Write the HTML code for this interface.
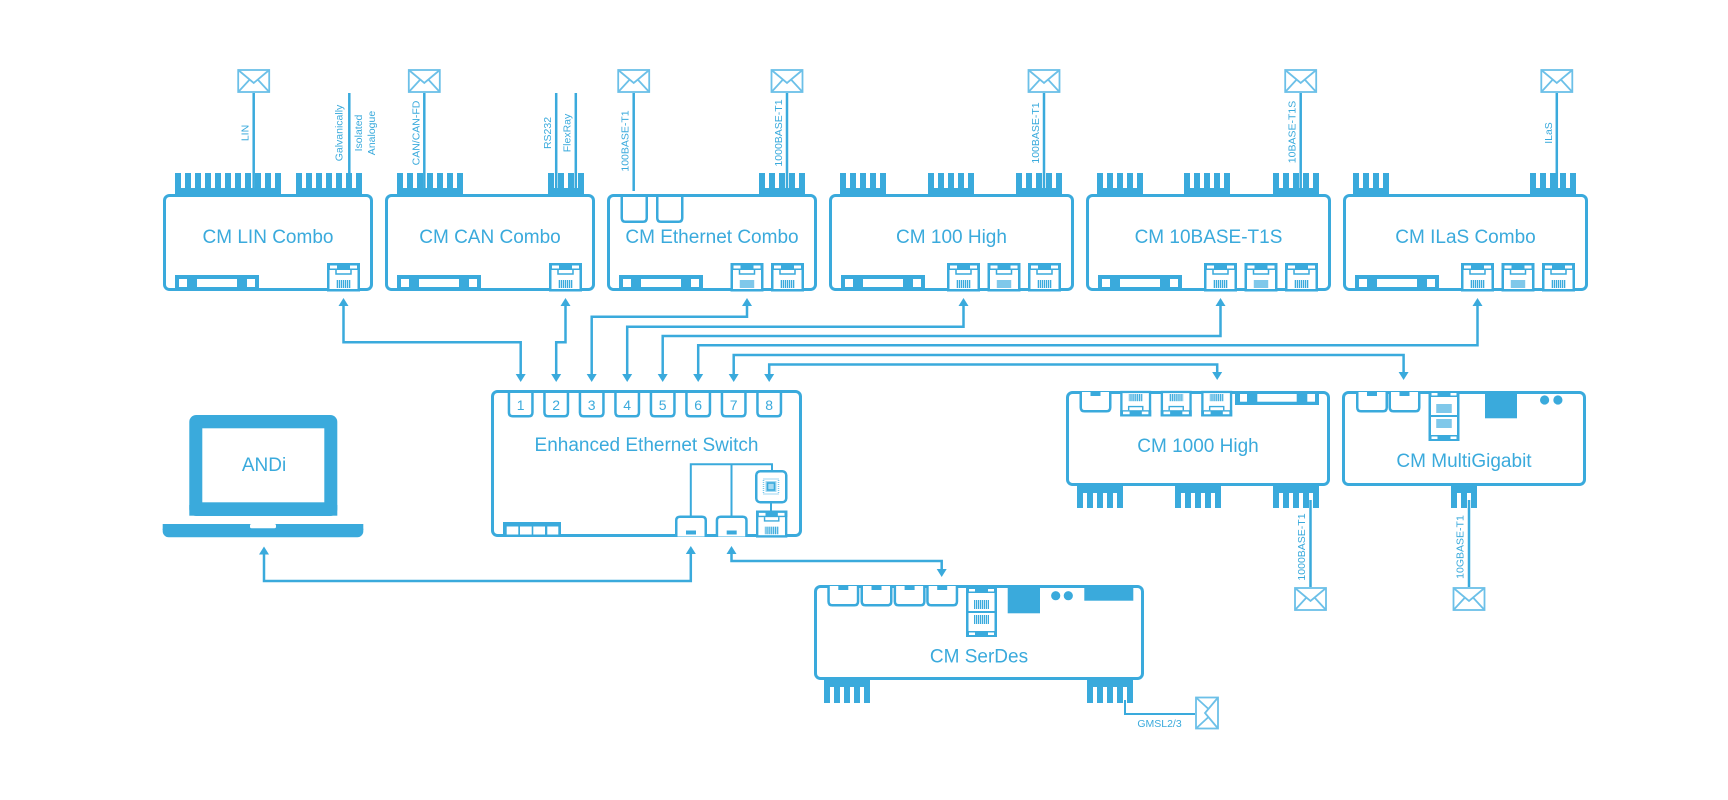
<!DOCTYPE html>
<html><head><meta charset="utf-8"><style>
html,body{margin:0;padding:0;background:#fff;}
svg{display:block;}
text{font-family:"Liberation Sans",Arial,sans-serif;fill:#3aaadc;}
.bx{fill:none;stroke:#3aaadc;stroke-width:3;}
.ln{fill:none;stroke:#3aaadc;stroke-width:2.5;}
.cn{fill:none;stroke:#3aaadc;stroke-width:2.5;}
.f{fill:#3aaadc;}
.w{fill:#fff;}
.lbl{font-size:10.5px;}
.big{font-size:19px;}
</style></head><body>
<svg width="1728" height="800" viewBox="0 0 1728 800" xmlns="http://www.w3.org/2000/svg">
<defs>
<pattern id="st" width="2" height="40" patternUnits="userSpaceOnUse"><rect width="2" height="40" fill="#c4e7f7"/><rect width="1" height="40" fill="#3aaadc"/></pattern>
<pattern id="fin" width="10" height="40" patternUnits="userSpaceOnUse"><rect width="6" height="40" fill="#3aaadc"/></pattern>
<g id="rj">
 <rect x="1.25" y="1.25" width="30.5" height="26" fill="#fff" stroke="#3aaadc" stroke-width="2.5"/>
 <rect x="0" y="0" width="33" height="7" fill="#3aaadc"/>
 <rect x="3" y="2.5" width="7" height="3" fill="#fff"/>
 <rect x="23" y="2.5" width="7" height="3" fill="#fff"/>
 <path d="M9 7 V11 H24 V7" fill="none" stroke="#3aaadc" stroke-width="1.5"/>
 <rect x="9" y="17" width="15" height="8" fill="url(#st)"/>
</g>
<g id="rj2">
 <rect x="1.25" y="1.25" width="28.5" height="47.5" fill="#fff" stroke="#3aaadc" stroke-width="2.5"/>
 <rect x="0" y="0" width="31" height="6" fill="#3aaadc"/>
 <rect x="3" y="2" width="6" height="2.5" fill="#fff"/>
 <rect x="22" y="2" width="6" height="2.5" fill="#fff"/>
 <rect x="0" y="44" width="31" height="6" fill="#3aaadc"/>
 <rect x="3" y="45.5" width="6" height="2.5" fill="#fff"/>
 <rect x="22" y="45.5" width="6" height="2.5" fill="#fff"/>
 <line x1="2" y1="25" x2="29" y2="25" stroke="#3aaadc" stroke-width="2"/>
 <rect x="8" y="13" width="15" height="9" fill="url(#st)"/>
 <rect x="8" y="28" width="15" height="9" fill="url(#st)"/>
</g>
<g id="env" fill="none" stroke="#6cc0e8" stroke-width="1.8">
 <rect x="1" y="1" width="31" height="22" fill="#fff"/>
 <polyline points="1,1 16.5,14 32,1"/>
 <line x1="1" y1="23" x2="12.5" y2="10.5"/>
 <line x1="32" y1="23" x2="20.5" y2="10.5"/>
</g>
<path id="port" d="M1.25 0 V21.5 Q1.25 25.25 5 25.25 H21 Q24.75 25.25 24.75 21.5 V0" fill="none" stroke="#3aaadc" stroke-width="2.5"/>
<g id="sfpd">
 <path d="M1.25 0 V15.5 Q1.25 19.25 5 19.25 H27 Q30.75 19.25 30.75 15.5 V0" fill="#fff" stroke="#3aaadc" stroke-width="2.5"/>
 <rect x="11" y="0" width="10" height="4" fill="#3aaadc"/>
</g>
<g id="sfpu">
 <path d="M1.25 21 V5 Q1.25 1.25 5 1.25 H27 Q30.75 1.25 30.75 5 V21" fill="#fff" stroke="#3aaadc" stroke-width="2.5"/>
 <rect x="11" y="15" width="10" height="4" fill="#3aaadc"/>
</g>
<g id="bar">
 <rect x="0" y="0" width="84" height="16" fill="#3aaadc"/>
 <rect x="4" y="4" width="8" height="8" fill="#fff"/>
 <rect x="22" y="4" width="40" height="8" fill="#fff"/>
 <rect x="72" y="4" width="8" height="8" fill="#fff"/>
</g>
</defs>

<!-- ================= TOP ROW ================= -->
<!-- fins -->
<g transform="translate(175,173)"><rect width="106" height="15" fill="url(#fin)"/><rect y="15" width="106" height="8" class="f"/></g>
<g transform="translate(296,173)"><rect width="66" height="15" fill="url(#fin)"/><rect y="15" width="66" height="8" class="f"/></g>
<g transform="translate(397,173)"><rect width="66" height="15" fill="url(#fin)"/><rect y="15" width="66" height="8" class="f"/></g>
<g transform="translate(548,173)"><rect width="36" height="15" fill="url(#fin)"/><rect y="15" width="36" height="8" class="f"/></g>
<g transform="translate(759,173)"><rect width="46" height="15" fill="url(#fin)"/><rect y="15" width="46" height="8" class="f"/></g>
<g transform="translate(840,173)"><rect width="46" height="15" fill="url(#fin)"/><rect y="15" width="46" height="8" class="f"/></g>
<g transform="translate(928,173)"><rect width="46" height="15" fill="url(#fin)"/><rect y="15" width="46" height="8" class="f"/></g>
<g transform="translate(1016,173)"><rect width="46" height="15" fill="url(#fin)"/><rect y="15" width="46" height="8" class="f"/></g>
<g transform="translate(1097,173)"><rect width="46" height="15" fill="url(#fin)"/><rect y="15" width="46" height="8" class="f"/></g>
<g transform="translate(1184,173)"><rect width="46" height="15" fill="url(#fin)"/><rect y="15" width="46" height="8" class="f"/></g>
<g transform="translate(1273,173)"><rect width="46" height="15" fill="url(#fin)"/><rect y="15" width="46" height="8" class="f"/></g>
<g transform="translate(1353,173)"><rect width="36" height="15" fill="url(#fin)"/><rect y="15" width="36" height="8" class="f"/></g>
<g transform="translate(1530,173)"><rect width="46" height="15" fill="url(#fin)"/><rect y="15" width="46" height="8" class="f"/></g>

<!-- top signal lines -->
<g class="ln">
<line x1="253.7" y1="93" x2="253.7" y2="188"/>
<line x1="349.3" y1="93" x2="349.3" y2="188"/>
<line x1="424.3" y1="93" x2="424.3" y2="188"/>
<line x1="556.2" y1="93" x2="556.2" y2="188"/>
<line x1="575.8" y1="93" x2="575.8" y2="188"/>
<line x1="633.7" y1="93" x2="633.7" y2="191"/>
<line x1="787" y1="93" x2="787" y2="188"/>
<line x1="1044" y1="93" x2="1044" y2="188"/>
<line x1="1300.7" y1="93" x2="1300.7" y2="188"/>
<line x1="1556.8" y1="93" x2="1556.8" y2="188"/>
</g>
<use href="#env" x="237.2" y="69"/>
<use href="#env" x="407.8" y="69"/>
<use href="#env" x="617.2" y="69"/>
<use href="#env" x="770.5" y="69"/>
<use href="#env" x="1027.5" y="69"/>
<use href="#env" x="1284.2" y="69"/>
<use href="#env" x="1540.3" y="69"/>

<!-- rotated labels -->
<g class="lbl" text-anchor="middle">
<text transform="translate(248.7,133) rotate(-90)">LIN</text>
<text transform="translate(342.5,133) rotate(-90)">Galvanically</text>
<text transform="translate(362,133) rotate(-90)">Isolated</text>
<text transform="translate(375,133) rotate(-90)">Analogue</text>
<text transform="translate(419.3,133) rotate(-90)">CAN/CAN-FD</text>
<text transform="translate(551,133) rotate(-90)">RS232</text>
<text transform="translate(570.5,133) rotate(-90)">FlexRay</text>
<text transform="translate(628.7,141) rotate(-90)">100BASE-T1</text>
<text transform="translate(782,133) rotate(-90)">1000BASE-T1</text>
<text transform="translate(1039,133) rotate(-90)">100BASE-T1</text>
<text transform="translate(1295.7,132) rotate(-90)">10BASE-T1S</text>
<text transform="translate(1551.8,133) rotate(-90)">ILaS</text>
<text transform="translate(1305,547) rotate(-90)">1000BASE-T1</text>
<text transform="translate(1463.6,547) rotate(-90)">10GBASE-T1</text>
</g>

<!-- top boxes -->
<rect class="bx" x="164.5" y="195.5" width="207" height="94" rx="5"/>
<rect class="bx" x="386.5" y="195.5" width="207" height="94" rx="5"/>
<rect class="bx" x="608.5" y="195.5" width="207" height="94" rx="5"/>
<rect class="bx" x="830.5" y="195.5" width="242" height="94" rx="5"/>
<rect class="bx" x="1087.5" y="195.5" width="242" height="94" rx="5"/>
<rect class="bx" x="1344.5" y="195.5" width="242" height="94" rx="5"/>

<!-- Eth SFP cages -->
<path class="ln" d="M621.75 196 V218 Q621.75 221.75 625.5 221.75 H643 Q646.75 221.75 646.75 218 V196"/>
<path class="ln" d="M657.25 196 V218 Q657.25 221.75 661 221.75 H678.5 Q682.25 221.75 682.25 218 V196"/>

<!-- bottom bars -->
<use href="#bar" x="175" y="275"/>
<use href="#bar" x="397" y="275"/>
<use href="#bar" x="619" y="275"/>
<use href="#bar" x="841" y="275"/>
<use href="#bar" x="1098" y="275"/>
<use href="#bar" x="1355" y="275"/>

<!-- RJ45 top row -->
<use href="#rj" x="327" y="263"/>
<use href="#rj" x="549" y="263"/>
<use href="#rj" x="730.5" y="263"/>
<use href="#rj" x="771" y="263"/>
<use href="#rj" x="947" y="263"/>
<use href="#rj" x="987.5" y="263"/>
<use href="#rj" x="1028" y="263"/>
<use href="#rj" x="1204" y="263"/>
<use href="#rj" x="1244.5" y="263"/>
<use href="#rj" x="1285" y="263"/>
<use href="#rj" x="1461" y="263"/>
<use href="#rj" x="1501.5" y="263"/>
<use href="#rj" x="1542" y="263"/>

<g class="big" text-anchor="middle">
<text x="268" y="243">CM LIN Combo</text>
<text x="490" y="243">CM CAN Combo</text>
<text x="712" y="243">CM Ethernet Combo</text>
<text x="951.5" y="243">CM 100 High</text>
<text x="1208.5" y="243">CM 10BASE-T1S</text>
<text x="1465.5" y="243">CM ILaS Combo</text>
</g>

<!-- ================= CONNECTORS ================= -->
<g class="cn">
<path d="M343.5 305 V342.3 H520.7 V375"/>
<path d="M565.5 305 V342.3 H556.2 V375"/>
<path d="M591.7 375 V316.7 H747 V305"/>
<path d="M627.2 375 V326.7 H963.5 V305"/>
<path d="M662.7 375 V336 H1220.5 V305"/>
<path d="M698.2 375 V345.3 H1477.5 V305"/>
<path d="M733.7 375 V355 H1403.6 V373"/>
<path d="M769.2 375 V364.5 H1217.2 V373"/>
<path d="M264 553 V581 H690.8 V553"/>
<path d="M731.5 553 V561 H941.7 V570"/>
</g>
<g class="f">
<!-- up arrows -->
<polygon points="338.5,306 348.5,306 343.5,298"/>
<polygon points="560.5,306 570.5,306 565.5,298"/>
<polygon points="742,306 752,306 747,298"/>
<polygon points="958.5,306 968.5,306 963.5,298"/>
<polygon points="1215.5,306 1225.5,306 1220.5,298"/>
<polygon points="1472.5,306 1482.5,306 1477.5,298"/>
<polygon points="259,554.5 269,554.5 264,546.5"/>
<polygon points="685.8,554 695.8,554 690.8,546"/>
<polygon points="726.5,554 736.5,554 731.5,546"/>
<!-- down arrows -->
<polygon points="515.7,374 525.7,374 520.7,382"/>
<polygon points="551.2,374 561.2,374 556.2,382"/>
<polygon points="586.7,374 596.7,374 591.7,382"/>
<polygon points="622.2,374 632.2,374 627.2,382"/>
<polygon points="657.7,374 667.7,374 662.7,382"/>
<polygon points="693.2,374 703.2,374 698.2,382"/>
<polygon points="728.7,374 738.7,374 733.7,382"/>
<polygon points="764.2,374 774.2,374 769.2,382"/>
<polygon points="1398.6,372 1408.6,372 1403.6,380"/>
<polygon points="1212.2,372 1222.2,372 1217.2,380"/>
<polygon points="936.7,569 946.7,569 941.7,577"/>
</g>

<!-- ================= SWITCH ================= -->
<rect class="bx" x="492.5" y="391.5" width="308" height="144" rx="5"/>
<use href="#port" x="507.7" y="391"/>
<use href="#port" x="543.2" y="391"/>
<use href="#port" x="578.7" y="391"/>
<use href="#port" x="614.2" y="391"/>
<use href="#port" x="649.7" y="391"/>
<use href="#port" x="685.2" y="391"/>
<use href="#port" x="720.7" y="391"/>
<use href="#port" x="756.2" y="391"/>
<g style="font-size:14px" text-anchor="middle">
<text x="520.7" y="410">1</text>
<text x="556.2" y="410">2</text>
<text x="591.7" y="410">3</text>
<text x="627.2" y="410">4</text>
<text x="662.7" y="410">5</text>
<text x="698.2" y="410">6</text>
<text x="733.7" y="410">7</text>
<text x="769.2" y="410">8</text>
</g>
<text class="big" x="646.5" y="451" text-anchor="middle">Enhanced Ethernet Switch</text>
<rect class="f" x="503" y="522" width="58" height="14"/>
<rect class="w" x="506.7" y="526.5" width="11.6" height="8"/>
<rect class="w" x="520" y="526.5" width="11.7" height="8"/>
<rect class="w" x="533.3" y="526.5" width="11.7" height="8"/>
<rect class="w" x="547.3" y="526.5" width="11" height="8"/>
<g fill="none" stroke="#3aaadc" stroke-width="2">
<path d="M690.8 516 V464.3 H772 V471"/>
<path d="M731.5 464.3 V516"/>
<path d="M771 503 V511"/>
</g>
<use href="#sfpu" x="675" y="515.5"/>
<use href="#sfpu" x="715.7" y="515.5"/>
<rect x="756.25" y="471.25" width="30" height="31" rx="4" fill="#fff" stroke="#3aaadc" stroke-width="2.5"/>
<rect x="763.5" y="479" width="15" height="15" fill="none" stroke="#7cc8ec" stroke-width="1.5" stroke-dasharray="1 1"/>
<rect x="765.5" y="481" width="11" height="11" fill="#a6daf2"/>
<rect x="767.5" y="483" width="7" height="7" fill="none" stroke="#3aaadc" stroke-width="1.6"/>
<g transform="translate(756,510.5) scale(0.95,0.95)"><use href="#rj"/></g>

<!-- ================= LAPTOP ================= -->
<rect class="f" x="189.3" y="415" width="148" height="101" rx="7"/>
<rect class="f" x="189.3" y="505" width="148" height="10.7"/>
<rect class="w" x="202.3" y="428.3" width="122" height="74"/>
<text class="big" x="264" y="471" text-anchor="middle">ANDi</text>
<rect class="f" x="162.7" y="524" width="200.6" height="13.3" rx="6"/>
<rect class="f" x="162.7" y="524" width="200.6" height="6"/>
<rect class="w" x="250" y="524" width="26" height="4.3" rx="1.5"/>

<!-- ================= CM 1000 HIGH ================= -->
<g transform="translate(1077,484)"><rect width="46" height="9" class="f"/><rect y="9" width="46" height="15" fill="url(#fin)"/></g>
<g transform="translate(1175,484)"><rect width="46" height="9" class="f"/><rect y="9" width="46" height="15" fill="url(#fin)"/></g>
<g transform="translate(1273,484)"><rect width="46" height="9" class="f"/><rect y="9" width="46" height="15" fill="url(#fin)"/></g>
<rect class="bx" x="1067.5" y="392.5" width="261" height="92" rx="5"/>
<g transform="translate(1079.5,392)"><use href="#sfpd"/></g>
<g transform="translate(1120.2,416.5) scale(0.94,-0.9)"><use href="#rj"/></g>
<g transform="translate(1160.7,416.5) scale(0.94,-0.9)"><use href="#rj"/></g>
<g transform="translate(1201.2,416.5) scale(0.94,-0.9)"><use href="#rj"/></g>
<rect class="f" x="1235" y="391" width="84" height="14"/>
<rect class="w" x="1240" y="394" width="7" height="7.7"/>
<rect class="w" x="1257.3" y="394" width="39.4" height="7.7"/>
<rect class="w" x="1307.3" y="394" width="7.7" height="7.7"/>
<text class="big" x="1198" y="452" text-anchor="middle">CM 1000 High</text>
<line class="ln" x1="1310.5" y1="500" x2="1310.5" y2="587"/>
<use href="#env" x="1294" y="587"/>

<!-- ================= CM MULTIGIGABIT ================= -->
<g transform="translate(1451,484)"><rect width="26" height="9" class="f"/><rect y="9" width="26" height="15" fill="url(#fin)"/></g>
<rect class="bx" x="1343.5" y="392.5" width="241" height="92" rx="5"/>
<g transform="translate(1356,392)"><use href="#sfpd"/></g>
<g transform="translate(1388.5,392)"><use href="#sfpd"/></g>
<use href="#rj2" x="1428.5" y="391"/>
<rect class="f" x="1485" y="391" width="32" height="27.3"/>
<circle class="f" cx="1544.6" cy="400" r="4.6"/>
<circle class="f" cx="1557.9" cy="400" r="4.6"/>
<text class="big" x="1464" y="467" text-anchor="middle">CM MultiGigabit</text>
<line class="ln" x1="1469" y1="500" x2="1469" y2="587"/>
<use href="#env" x="1452.5" y="587"/>

<!-- ================= CM SERDES ================= -->
<g transform="translate(824,678)"><rect width="46" height="9" class="f"/><rect y="9" width="46" height="16" fill="url(#fin)"/></g>
<g transform="translate(1087,678)"><rect width="46" height="9" class="f"/><rect y="9" width="46" height="16" fill="url(#fin)"/></g>
<rect class="bx" x="815.5" y="586.5" width="327" height="92" rx="5"/>
<g transform="translate(827.3,586)"><use href="#sfpd"/></g>
<g transform="translate(860.5,586)"><use href="#sfpd"/></g>
<g transform="translate(893.6,586)"><use href="#sfpd"/></g>
<g transform="translate(926.2,586)"><use href="#sfpd"/></g>
<use href="#rj2" x="966" y="587"/>
<rect class="f" x="1007.7" y="585" width="32.3" height="28.3"/>
<circle class="f" cx="1055.7" cy="595.7" r="4.6"/>
<circle class="f" cx="1068.3" cy="595.7" r="4.6"/>
<rect class="f" x="1084.3" y="585" width="49" height="15.7"/>
<text class="big" x="979" y="662.5" text-anchor="middle">CM SerDes</text>
<path d="M1125 700 V714 H1195" fill="none" stroke="#3aaadc" stroke-width="2"/>
<g transform="translate(1219,696.5) rotate(90)"><use href="#env"/></g>
<text x="1159.5" y="727" text-anchor="middle" style="font-size:10.5px">GMSL2/3</text>
</svg>
</body></html>
